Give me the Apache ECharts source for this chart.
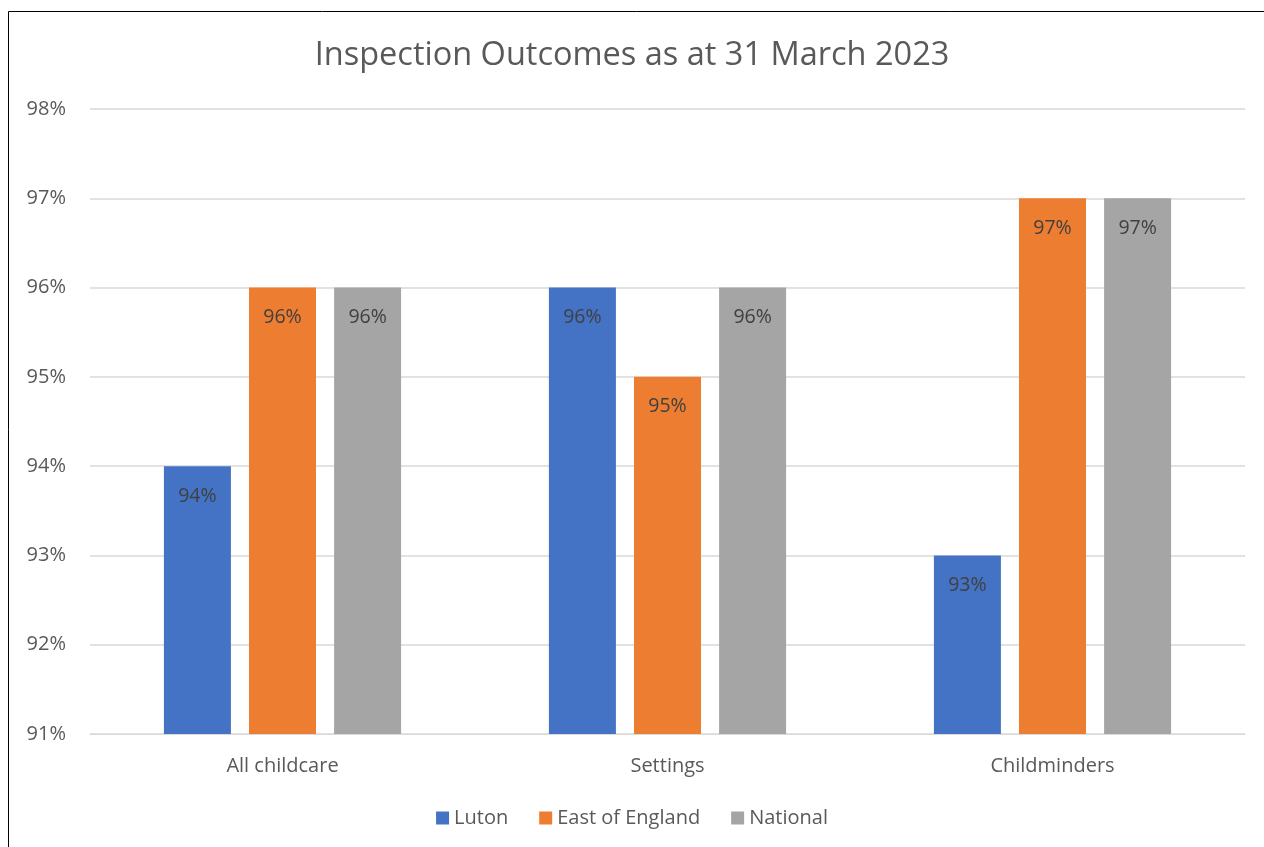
<!DOCTYPE html>
<html>
<head>
<meta charset="utf-8">
<script src="https://cdn.jsdelivr.net/npm/echarts@6/dist/echarts.min.js"></script>
<style>
  html, body { margin: 0; padding: 0; background: #fff; overflow: hidden; }
  #chart { position: absolute; left: 0; top: 0; width: 1264px; height: 847px; }
</style>
</head>
<body>
<div id="chart"></div>
<script>
// 数据
const categories = ['All childcare', 'Settings', 'Childminders'];
const luton = [94, 96, 93];
const eastOfEngland = [96, 95, 97];
const national = [96, 96, 97];
const yTicks = [91, 92, 93, 94, 95, 96, 97, 98];

const fontFamily = '"Open Sans", "Noto Sans", sans-serif';
const textColor = '#595959';

function makeSeries(name, data, color) {
  return {
    name: name,
    type: 'bar',
    data: data,
    barWidth: 67,
    barGap: '27%',
    itemStyle: { color: color },
    label: {
      show: true,
      position: 'insideTop',
      distance: 20,
      color: '#404040',
      fontSize: 19.5,
      fontFamily: fontFamily,
      formatter: function (p) { return p.value + '%'; }
    }
  };
}

const chart = echarts.init(document.getElementById('chart'));
chart.setOption({
  animation: false,
  backgroundColor: 'transparent',
  // 外框：只有左边和上边
  graphic: [{
    type: 'polyline',
    silent: true,
    shape: { points: [[8.5, 847], [8.5, 11.5], [1264, 11.5]] },
    style: { stroke: '#000', lineWidth: 1, fill: null }
  }],
  title: {
    text: 'Inspection Outcomes as at 31 March 2023',
    left: 'center',
    top: 34,
    textStyle: {
      color: textColor,
      fontSize: 32.5,
      fontWeight: 'normal',
      fontFamily: fontFamily
    }
  },
  legend: {
    bottom: 14,
    left: 'center',
    itemWidth: 13,
    itemHeight: 13,
    itemGap: 31,
    icon: 'rect',
    textStyle: { color: textColor, fontSize: 20, fontFamily: fontFamily }
  },
  grid: { left: 90, right: 19, top: 109, bottom: 113 },
  xAxis: {
    type: 'category',
    data: categories,
    axisLine: { lineStyle: { color: '#d9d9d9' } },
    axisTick: { show: false },
    axisLabel: { color: textColor, fontSize: 20, margin: 22, fontFamily: fontFamily }
  },
  yAxis: {
    type: 'value',
    min: yTicks[0],
    max: yTicks[yTicks.length - 1],
    interval: 1,
    axisLine: { show: false },
    axisTick: { show: false },
    axisLabel: {
      color: textColor,
      fontSize: 20,
      margin: 24,
      fontFamily: fontFamily,
      formatter: '{value}%'
    },
    splitLine: { lineStyle: { color: '#d9d9d9', width: 1.5 } }
  },
  series: [
    makeSeries('Luton', luton, '#4472c4'),
    makeSeries('East of England', eastOfEngland, '#ed7d31'),
    makeSeries('National', national, '#a5a5a5')
  ]
});
</script>
</body>
</html>
